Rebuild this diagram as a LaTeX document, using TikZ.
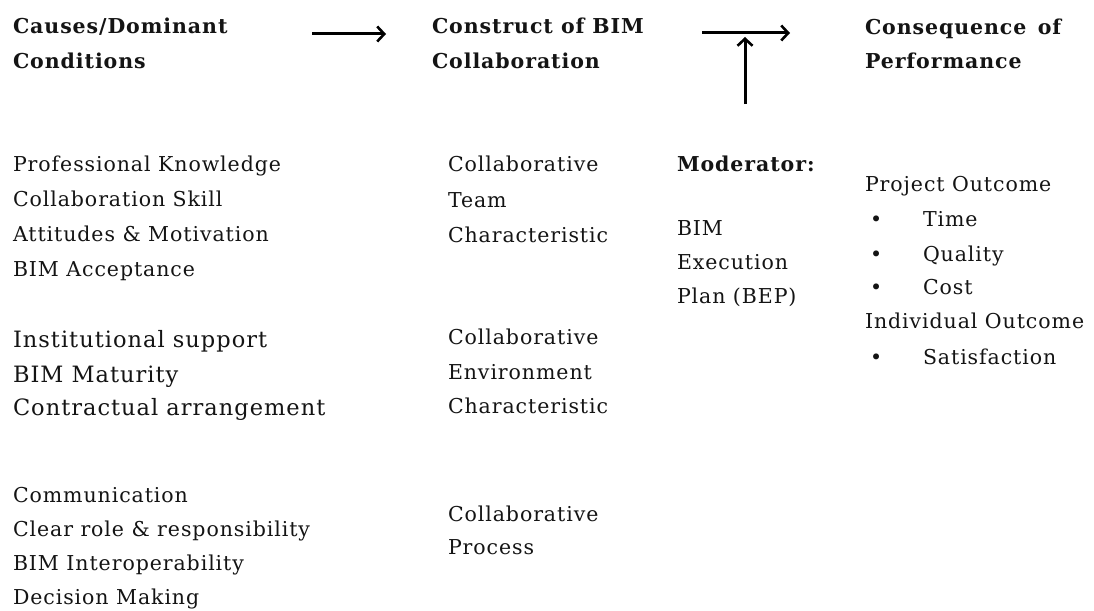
\documentclass[tikz,border=0pt]{standalone}
\usepackage{fontspec}
\setmainfont{DejaVu Serif}[LetterSpace=4.5]
\usetikzlibrary{arrows.meta}
\tikzset{
  txt/.style={anchor=base west, inner sep=0pt, outer sep=0pt, font=\fontsize{20.5}{24}\selectfont, text=black!92},
  big/.style={txt, font=\fontsize{22.5}{26}\selectfont},
  head/.style={txt, font=\fontsize{20.5}{24}\selectfont\bfseries},
  flow/.style={line width=3pt, -{Straight Barb[length=7pt,width=15pt,line width=2.6pt]}},
}
\begin{document}
\begin{tikzpicture}[x=1pt,y=-1pt]
\useasboundingbox[fill=white] (0,0) rectangle (1094,610);
% headings
\node[head] (h1a) at (13,34) {Causes/Dominant};
\node[head] (h1b) at (13,69) {Conditions};
\node[head] (h2a) at (432,34) {Construct of BIM};
\node[head] (h2b) at (432,69) {Collaboration};
\node[head] (h3a) at (865,35) {Consequence\ \,of};
\node[head] (h3b) at (865,69) {Performance};
% arrows
\coordinate (a1s) at (312,34);
\coordinate (a1e) at (386,34);
\coordinate (a2s) at (702,33);
\coordinate (a2e) at (790,33);
\coordinate (a3s) at (745,104);
\coordinate (a3e) at (745,37);
\draw[flow] (a1s) -- (a1e);
\draw[flow] (a2s) -- (a2e);
\draw[flow] (a3s) -- (a3e);
% left column
\node[txt] (l1) at (13,171) {Professional Knowledge};
\node[txt] (l2) at (13,206) {Collaboration Skill};
\node[txt] (l3) at (13,241) {Attitudes \& Motivation};
\node[txt] (l4) at (13,276) {BIM Acceptance};
\node[big] (l5) at (13,347) {Institutional support};
\node[big] (l6) at (13,382) {BIM Maturity};
\node[big] (l7) at (13,415) {Contractual arrangement};
\node[txt] (l8) at (13,502) {Communication};
\node[txt] (l9) at (13,536) {Clear role \& responsibility};
\node[txt] (l10) at (13,570) {BIM Interoperability};
\node[txt] (l11) at (13,604) {Decision Making};
% middle column
\node[txt] (m1) at (448,171) {Collaborative};
\node[txt] (m2) at (448,207) {Team};
\node[txt] (m3) at (448,242) {Characteristic};
\node[txt] (m4) at (448,344) {Collaborative};
\node[txt] (m5) at (448,379) {Environment};
\node[txt] (m6) at (448,413) {Characteristic};
\node[txt] (m7) at (448,521) {Collaborative};
\node[txt] (m8) at (448,554) {Process};
% moderator
\node[head] (mod) at (677,171) {Moderator:};
\node[txt] (b1) at (677,235) {BIM};
\node[txt] (b2) at (677,269) {Execution};
\node[txt] (b3) at (677,303) {Plan (BEP)};
% right column
\node[txt] (r1) at (865,191) {Project Outcome};
\node[txt] (d1) at (870,226) {•};
\node[txt] (r2) at (923,226) {Time};
\node[txt] (d2) at (870,261) {•};
\node[txt] (r3) at (923,261) {Quality};
\node[txt] (d3) at (870,294) {•};
\node[txt] (r4) at (923,294) {Cost};
\node[txt] (r5) at (865,328) {Individual Outcome};
\node[txt] (d4) at (870,364) {•};
\node[txt] (r6) at (923,364) {Satisfaction};
\end{tikzpicture}
\end{document}
